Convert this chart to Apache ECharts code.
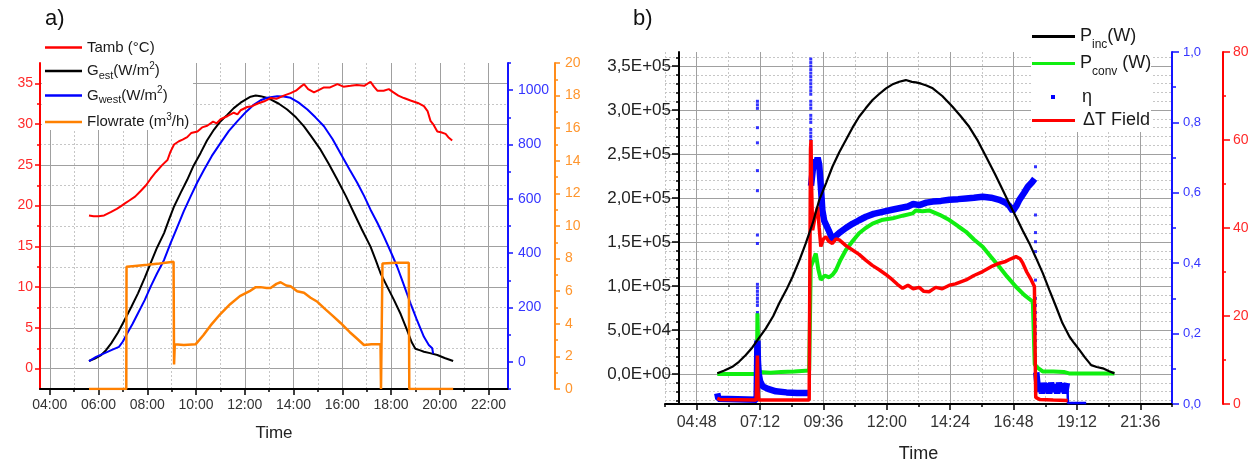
<!DOCTYPE html>
<html><head><meta charset="utf-8">
<script src="https://cdn.jsdelivr.net/npm/echarts@6/dist/echarts.min.js"></script>
<style>html,body{margin:0;padding:0;background:#fff}#c{width:1257px;height:464px}</style>
</head><body><div id="c"></div>
<script>
// ---------------- Panel a) data (x = hour of day) ----------------
const tambData = [[5.61,18.8],[5.8,18.7],[6.0,18.7],[6.23,18.8],[6.5,19.2],[6.75,19.6],[6.91,19.9],[7.1,20.3],[7.25,20.6],[7.5,21.1],[7.73,21.8],[7.95,22.5],[8.14,23.3],[8.35,24.1],[8.62,25.0],[8.83,25.6],[8.95,26.6],[9.1,27.5],[9.3,27.9],[9.45,28.1],[9.64,28.4],[9.8,28.9],[10.06,29.1],[10.25,29.6],[10.46,29.8],[10.7,30.3],[10.85,30.1],[11.01,30.6],[11.3,31.0],[11.55,31.4],[11.7,31.2],[11.83,31.7],[12.1,32.1],[12.3,32.2],[12.51,32.5],[12.8,32.8],[13.06,33.2],[13.3,33.1],[13.6,33.5],[13.88,33.8],[14.1,34.1],[14.3,34.6],[14.43,34.9],[14.6,34.3],[14.84,33.9],[15.05,34.2],[15.25,34.5],[15.5,34.5],[15.8,34.9],[16.05,34.6],[16.34,34.7],[16.6,34.8],[16.9,34.7],[17.16,35.2],[17.3,34.6],[17.44,34.1],[17.7,34.1],[17.91,34.3],[18.1,33.9],[18.3,33.5],[18.53,33.2],[18.8,32.9],[19.1,32.6],[19.35,32.2],[19.5,31.6],[19.62,30.4],[19.75,29.9],[19.9,29.1],[20.05,29.0],[20.24,28.8],[20.35,28.4],[20.51,28.0]];
const gestData = [[5.61,3],[5.85,12],[6.11,25],[6.3,42],[6.52,68],[6.8,108],[7.07,154],[7.35,203],[7.62,252],[7.9,310],[8.14,363],[8.4,420],[8.69,474],[8.9,525],[9.1,572],[9.37,622],[9.64,670],[9.9,722],[10.19,769],[10.45,815],[10.74,855],[11.0,885],[11.29,910],[11.55,934],[11.83,954],[12.05,966],[12.24,976],[12.45,980],[12.65,978],[12.85,973],[13.06,966],[13.4,950],[13.74,929],[14.1,900],[14.43,867],[14.75,827],[15.11,781],[15.45,728],[15.8,670],[16.15,610],[16.48,548],[16.8,488],[17.16,424],[17.37,375],[17.57,326],[17.85,276],[18.12,228],[18.4,175],[18.66,117],[18.85,72],[19.0,48],[19.07,43],[19.2,42],[19.25,46],[19.35,37],[19.6,32],[19.9,25],[20.2,14],[20.55,3]];
const gwestData = [[5.61,3],[5.9,18],[6.23,31],[6.55,44],[6.84,55],[7.0,75],[7.18,105],[7.4,140],[7.62,179],[7.9,228],[8.14,277],[8.4,325],[8.69,375],[8.95,435],[9.24,498],[9.5,555],[9.78,609],[10.05,660],[10.33,707],[10.65,758],[11.01,806],[11.35,850],[11.7,886],[12.05,920],[12.38,947],[12.65,963],[12.92,972],[13.33,978],[13.6,977],[13.88,972],[14.2,955],[14.57,929],[14.9,900],[15.25,867],[15.6,820],[16.0,756],[16.3,708],[16.62,658],[16.9,610],[17.16,560],[17.45,510],[17.71,461],[17.98,407],[18.25,351],[18.5,290],[18.8,215],[19.05,157],[19.35,92],[19.55,62],[19.69,50],[19.73,30]];
const flowData = [[5.61,0],[7.14,0],[7.15,7.5],[7.5,7.55],[8.0,7.62],[8.5,7.7],[9.08,7.8],[9.1,1.5],[9.13,2.75],[9.5,2.7],[9.99,2.75],[10.3,3.3],[10.6,3.9],[11.0,4.6],[11.4,5.2],[11.8,5.7],[12.2,6.0],[12.45,6.25],[12.65,6.25],[12.9,6.2],[13.06,6.2],[13.3,6.45],[13.47,6.55],[13.7,6.35],[13.88,6.3],[14.15,6.0],[14.43,5.9],[14.7,5.6],[14.98,5.35],[15.3,4.9],[15.6,4.5],[15.93,4.05],[16.3,3.5],[16.6,3.1],[16.89,2.7],[17.2,2.75],[17.57,2.75],[17.59,0],[17.63,0],[17.65,7.7],[18.2,7.75],[18.73,7.75],[18.75,0],[20.55,0]];

// ---------------- Panel b) data (x = hour of day) ----------------
const pincData = [[5.58,1000],[5.85,4000],[6.15,8300],[6.4,14000],[6.66,21600],[6.9,30000],[7.1,38600],[7.42,52000],[7.7,66000],[7.92,80300],[8.2,96000],[8.43,110600],[8.7,130000],[8.93,148500],[9.2,172000],[9.44,197700],[9.7,217000],[9.94,235600],[10.2,252000],[10.45,265900],[10.7,280000],[10.95,292400],[11.2,302000],[11.46,311400],[11.7,318000],[11.97,324700],[12.2,329000],[12.47,332200],[12.72,334100],[12.95,332000],[13.1,331500],[13.3,330000],[13.5,328000],[13.74,324700],[14.1,316000],[14.49,303800],[14.8,293000],[15.12,281000],[15.45,265000],[15.76,246900],[16.1,227000],[16.39,209100],[16.65,193000],[16.89,178800],[17.15,163000],[17.4,148500],[17.65,132000],[17.91,114400],[18.15,96000],[18.41,76500],[18.65,58000],[18.92,42400],[19.1,35000],[19.3,27300],[19.5,19000],[19.74,10200],[19.95,8000],[20.18,6500],[20.4,3500],[20.62,800]];
const pconvData = [[5.58,0],[7.08,0],[7.1,69000],[7.13,30000],[7.17,3000],[7.3,2000],[7.6,1500],[8.0,2500],[8.5,3000],[9.06,4000],[9.1,4000],[9.12,122000],[9.2,128000],[9.31,137000],[9.4,120000],[9.5,107000],[9.65,112000],[9.82,110000],[9.95,113000],[10.07,118000],[10.25,130000],[10.45,141000],[10.7,151000],[10.95,160000],[11.2,166000],[11.46,171000],[11.8,175000],[12.22,177000],[12.6,180000],[12.98,182600],[13.1,186000],[13.35,185000],[13.6,186000],[14.0,181000],[14.37,175000],[14.7,168000],[15.0,161700],[15.3,153000],[15.63,144700],[15.95,133000],[16.26,122000],[16.55,111000],[16.89,99200],[17.2,90000],[17.53,82200],[17.56,80000],[17.6,11000],[17.7,7500],[17.9,3000],[18.3,2800],[18.7,2500],[18.9,800],[20.62,800]];
const etaBandData = [[5.58,0.03],[5.62,0.015],[7.07,0.012],[7.09,0.012],[7.1,0.18],[7.12,0.12],[7.15,0.085],[7.2,0.065],[7.3,0.05],[7.5,0.043],[7.8,0.036],[8.2,0.033],[8.6,0.031],[9.07,0.031],[9.09,'-'],[9.13,0.62],[9.19,0.66],[9.25,0.695],[9.31,0.675],[9.38,0.7],[9.44,0.68],[9.5,0.62],[9.56,0.55],[9.63,0.52],[9.7,0.515],[9.82,0.49],[9.94,0.466],[10.05,0.476],[10.2,0.486],[10.45,0.5],[10.7,0.512],[10.95,0.522],[11.21,0.532],[11.5,0.54],[11.84,0.546],[12.15,0.551],[12.47,0.556],[12.8,0.561],[13.0,0.568],[13.23,0.565],[13.5,0.572],[13.74,0.575],[14.05,0.577],[14.37,0.58],[14.7,0.582],[15.0,0.584],[15.3,0.586],[15.63,0.589],[15.95,0.586],[16.26,0.58],[16.5,0.572],[16.65,0.562],[16.77,0.548],[16.9,0.562],[17.02,0.58],[17.2,0.6],[17.34,0.617],[17.5,0.63],[17.6,0.64],[17.62,'-'],[17.66,0.09],[17.7,0.06],[17.76,0.035],[17.82,0.055],[17.88,0.03],[17.94,0.06],[18.0,0.035],[18.08,0.058],[18.15,0.03],[18.22,0.06],[18.3,0.035],[18.38,0.055],[18.45,0.03],[18.52,0.06],[18.6,0.035],[18.68,0.058],[18.75,0.03],[18.82,0.06],[18.84,'-']];
const etaTailData = [[18.84,0.05],[18.86,0.003],[19.55,0.003]];
const etaDotData = [[7.1,0.86],[7.1,0.85],[7.1,0.84],[7.1,0.785],[7.1,0.742],[7.1,0.663],[7.1,0.606],[7.1,0.48],[7.1,0.456],[7.1,0.34],[7.1,0.33],[7.1,0.32],[7.1,0.31],[7.1,0.3],[7.1,0.29],[7.1,0.28],[7.1,0.26],[7.11,0.25],[7.11,0.24],[7.11,0.23],[7.11,0.22],[7.11,0.21],[7.11,0.2],[7.12,0.19],[7.12,0.18],[7.12,0.17],[7.12,0.16],[7.13,0.15],[7.13,0.14],[7.14,0.13],[7.15,0.12],[7.15,0.11],
  [9.12,0.98],[9.12,0.97],[9.12,0.96],[9.12,0.95],[9.12,0.94],[9.12,0.93],[9.12,0.92],[9.12,0.91],[9.12,0.9],[9.12,0.89],[9.12,0.88],[9.12,0.86],[9.12,0.85],[9.12,0.84],[9.12,0.82],[9.12,0.81],[9.12,0.8],[9.12,0.78],[9.12,0.77],[9.12,0.76],[9.12,0.75],[9.12,0.72],[9.12,0.7],[9.12,0.68],[9.12,0.66],[9.12,0.64],
  [17.63,0.674],[17.63,0.537],[17.63,0.487],[17.63,0.461],[17.63,0.433],[17.63,0.352],[17.63,0.3],[17.63,0.28],[17.63,0.26],[17.63,0.24],[17.63,0.22],[17.63,0.2],[17.63,0.18],[17.63,0.16],[17.63,0.14],[17.63,0.12],[17.63,0.1]];
const deltaTData = [[5.58,1.3],[5.7,1.0],[7.05,0.9],[7.08,0.9],[7.1,11],[7.12,3],[7.15,0.9],[9.06,0.9],[9.09,1.0],[9.11,58],[9.13,60],[9.15,50],[9.19,39.5],[9.3,43],[9.38,44.8],[9.44,40],[9.5,35.8],[9.6,37.5],[9.69,38],[9.8,37],[9.94,36.5],[10.07,37.5],[10.2,37.3],[10.45,36],[10.7,35],[10.95,34],[11.2,32.7],[11.45,31.5],[11.71,30.5],[11.95,29.5],[12.22,28.2],[12.4,27.2],[12.6,26.3],[12.8,27],[13.0,26.2],[13.23,26.5],[13.4,25.6],[13.6,25.5],[13.85,26.5],[14.1,26.2],[14.37,27],[14.6,27.3],[15.0,28.2],[15.3,29.2],[15.63,30.1],[15.95,31.2],[16.26,32],[16.5,32.4],[16.7,33],[16.89,33.5],[17.05,33],[17.15,32],[17.3,30],[17.47,28.2],[17.59,26.7],[17.62,10],[17.64,1.5],[17.8,1.0],[18.3,0.9],[18.85,0.8]];

// ---------------- tick values ----------------
const aHourMajor = [4,6,8,10,12,14,16,18,20,22];
const aHourMinor = [5,7,9,11,13,15,17,19,21];
const aTambMajor = [0,5,10,15,20,25,30,35];
const aTambMinor = [2.5,7.5,12.5,17.5,22.5,27.5,32.5];
const aGMajor = [0,200,400,600,800,1000];
const aGMinor = [-100,100,300,500,700,900,1100];
const bHourMajor = [4.8,7.2,9.6,12,14.4,16.8,19.2,21.6];
const bHourMinor = [3.6,6,8.4,10.8,13.2,15.6,18,20.4,22.8];
const bPowMajor = [0,50000,100000,150000,200000,250000,300000,350000];
const bPowMinor = [-30000,-20000,-10000,10000,20000,30000,40000,60000,70000,80000,90000,110000,120000,130000,140000,160000,170000,180000,190000,210000,220000,230000,240000,260000,270000,280000,290000,310000,320000,330000,340000,360000];

const FONT = "'Liberation Sans', Arial, Helvetica, sans-serif";
const MAJ = '#a0a0a0', MIN = '#c6c6c6';
const RED = '#ff0000', BLUE = '#0000ff', ORANGE = '#ff8000', GREEN = '#10ee10';
function hhmm(h){ const t = Math.round(h*60); const hh = Math.floor(t/60), mm = t%60; return String(hh).padStart(2,'0')+':'+String(mm).padStart(2,'0'); }
function sci(v){ if (Math.abs(v) < 1e-9) return '0,0E+00'; const e = Math.floor(Math.log10(Math.abs(v))+1e-9); const m = v/Math.pow(10,e); return m.toFixed(1).replace('.',',')+'E'+(e<0?'-':'+')+String(Math.abs(e)).padStart(2,'0'); }

const chart = echarts.init(document.getElementById('c'), null, {renderer:'canvas'});

const TXT = '#1a1a1a';
const richA = {
  n:{fontSize:15, lineHeight:20, verticalAlign:'middle', fontFamily:FONT, color:TXT},
  sub:{fontSize:11, lineHeight:20, verticalAlign:'bottom', fontFamily:FONT, color:TXT},
  sup:{fontSize:10, lineHeight:20, verticalAlign:'top', fontFamily:FONT, color:TXT}
};
const richB = {
  n:{fontSize:18, lineHeight:28, verticalAlign:'middle', fontFamily:FONT, color:TXT},
  sub:{fontSize:12, lineHeight:28, verticalAlign:'bottom', fontFamily:FONT, color:TXT},
  g:{fontSize:18, lineHeight:22, verticalAlign:'middle', fontFamily:FONT, color:TXT, padding:[0,0,0,22]},
  d:{fontSize:18, lineHeight:22, verticalAlign:'middle', fontFamily:FONT, color:TXT, padding:[0,0,0,3]}
};
function leg(name, left, top, fmt, rich, w, h){
  return {data:[{name:name, icon:'rect'}], left:left, top:top, orient:'vertical', padding:0, itemGap:0,
    itemWidth:w, itemHeight:h, selectedMode:false, formatter:()=>fmt,
    textStyle:{fontFamily:FONT, fontSize:15, color:TXT, rich:rich}};
}

const option = {
  animation:false,
  textStyle:{fontFamily:FONT},
  title:[
    {text:'a)', left:45, top:8, padding:0, textStyle:{fontSize:22, fontWeight:'normal', color:'#111', fontFamily:FONT}},
    {text:'b)', left:633, top:8, padding:0, textStyle:{fontSize:22, fontWeight:'normal', color:'#111', fontFamily:FONT}}
  ],
  graphic:[
    {type:'rect', z:1, shape:{x:42, y:56, width:151, height:74}, style:{fill:'#fff'}},
    {type:'rect', z:1, shape:{x:1031, y:50, width:120, height:82}, style:{fill:'#fff'}}
  ],
  legend:[
    leg('Tamb (°C)', 45, 40, '{n|Tamb (°C)}', richA, 37, 2.5),
    leg('Gest', 45, 61, '{n|G}{sub|est}{n|(W/m}{sup|2}{n|)}', richA, 37, 2.5),
    leg('Gwest', 45, 85.5, '{n|G}{sub|west}{n|(W/m}{sup|2}{n|)}', richA, 37, 2.5),
    leg('Flowrate', 45, 112, '{n|Flowrate (m}{sup|3}{n|/h)}', richA, 37, 2.5),
    leg('Pinc', 1032, 27.5, '{n|P}{sub|inc}{n|(W)}', richB, 43, 3),
    leg('Pconv', 1032, 54.5, '{n|P}{sub|conv}{n| (W)}', richB, 43, 3),
    leg('η', 1051, 88, '{g|η}', richB, 4, 4),
    leg('ΔT Field', 1032, 111.5, '{d|ΔT Field}', richB, 43, 3)
  ],
  grid:[
    {left:40, right:749, top:63, bottom:75, outerBoundsMode:'none'},
    {left:665, right:85, top:52, bottom:60, outerBoundsMode:'none'}
  ],
  xAxis:[
    {type:'value', gridIndex:0, position:'bottom', min:3.6, max:22.8,
     name:'Time', nameLocation:'middle', nameGap:36, nameTextStyle:{fontSize:17, color:'#222', fontFamily:FONT},
     axisLine:{show:true, onZero:false, lineStyle:{color:'#000', width:2}},
     axisTick:{show:true, customValues:aHourMajor, length:6, lineStyle:{color:'#000', width:1.5}},
     axisLabel:{customValues:aHourMajor, formatter:v=>hhmm(v), margin:9, fontSize:14, color:'#333', fontFamily:FONT},
     splitLine:{show:true, lineStyle:{color:MAJ, width:1}}},
    {type:'value', gridIndex:0, position:'bottom', min:3.6, max:22.8,
     axisLine:{show:false, onZero:false},
     axisTick:{show:true, customValues:aHourMinor, length:3, lineStyle:{color:'#000', width:1.5}},
     axisLabel:{show:false},
     splitLine:{show:true, lineStyle:{color:MIN, width:1, type:[2,2]}}},
    {type:'value', gridIndex:1, position:'bottom', min:3.6, max:22.8,
     name:'Time', nameLocation:'middle', nameGap:41, nameTextStyle:{fontSize:18, color:'#222', fontFamily:FONT},
     axisLine:{show:true, onZero:false, lineStyle:{color:'#000', width:2}},
     axisTick:{show:true, customValues:bHourMajor, length:6, lineStyle:{color:'#000', width:1.5}},
     axisLabel:{customValues:bHourMajor, formatter:v=>hhmm(v), margin:11, fontSize:16, color:'#333', fontFamily:FONT},
     splitLine:{show:true, lineStyle:{color:MAJ, width:1}}},
    {type:'value', gridIndex:1, position:'bottom', min:3.6, max:22.8,
     axisLine:{show:false, onZero:false},
     axisTick:{show:true, customValues:bHourMinor, length:3, lineStyle:{color:'#000', width:1.5}},
     axisLabel:{show:false},
     splitLine:{show:true, lineStyle:{color:MIN, width:1, type:[2,2]}}}
  ],
  yAxis:[
    {type:'value', gridIndex:0, position:'left', min:-2.5, max:37.5,
     axisLine:{show:true, onZero:false, lineStyle:{color:RED, width:2}},
     axisTick:{show:true, customValues:aTambMajor, length:5, lineStyle:{color:RED, width:1.5}},
     axisLabel:{customValues:aTambMajor, formatter:v=>String(v), margin:7, fontSize:14, color:'#ff2a2a', fontFamily:FONT},
     splitLine:{show:true, lineStyle:{color:MAJ, width:1}}},
    {type:'value', gridIndex:0, position:'left', min:-2.5, max:37.5,
     axisLine:{show:false, onZero:false},
     axisTick:{show:true, customValues:aTambMinor, length:3, lineStyle:{color:RED, width:1.5}},
     axisLabel:{show:false},
     splitLine:{show:true, lineStyle:{color:MIN, width:1, type:[2,2]}}},
    {type:'value', gridIndex:0, position:'right', min:-100, max:1100,
     axisLine:{show:true, onZero:false, lineStyle:{color:'#1515ff', width:2}},
     axisTick:{show:true, customValues:aGMajor, length:5, lineStyle:{color:'#1515ff', width:1.5}},
     axisLabel:{customValues:aGMajor, formatter:v=>String(v), margin:10, fontSize:14, color:'#3535ff', fontFamily:FONT},
     splitLine:{show:false}},
    {type:'value', gridIndex:0, position:'right', min:-100, max:1100,
     axisLine:{show:false, onZero:false},
     axisTick:{show:true, customValues:aGMinor, length:3, lineStyle:{color:'#1515ff', width:1.5}},
     axisLabel:{show:false}, splitLine:{show:false}},
    {type:'value', gridIndex:0, position:'right', offset:47, min:0, max:20, interval:2,
     axisLine:{show:true, onZero:false, lineStyle:{color:'#ff8c1a', width:2}},
     axisTick:{show:true, length:5, lineStyle:{color:'#ff8c1a', width:1.5}},
     minorTick:{show:true, splitNumber:2, length:3, lineStyle:{color:'#ff8c1a', width:1.5}},
     axisLabel:{formatter:v=>String(v), margin:10, fontSize:14, color:'#ff962e', fontFamily:FONT},
     splitLine:{show:false}, minorSplitLine:{show:false}},
    {type:'value', gridIndex:1, position:'left', offset:-14, min:-34000, max:366000,
     axisLine:{show:true, onZero:false, lineStyle:{color:'#000', width:2}},
     axisTick:{show:true, customValues:bPowMajor, length:7, lineStyle:{color:'#000', width:1.5}},
     axisLabel:{customValues:bPowMajor, formatter:v=>sci(v), margin:8, fontSize:17, color:'#222', fontFamily:FONT},
     splitLine:{show:true, lineStyle:{color:MAJ, width:1}}},
    {type:'value', gridIndex:1, position:'left', offset:-14, min:-34000, max:366000,
     axisLine:{show:false, onZero:false},
     axisTick:{show:true, customValues:bPowMinor, length:3, lineStyle:{color:'#000', width:1.5}},
     axisLabel:{show:false},
     splitLine:{show:true, lineStyle:{color:MIN, width:1, type:[2,2]}}},
    {type:'value', gridIndex:1, position:'right', min:0, max:1, interval:0.2,
     axisLine:{show:true, onZero:false, lineStyle:{color:'#1515ff', width:2}},
     axisTick:{show:true, length:7, lineStyle:{color:'#1515ff', width:1.5}},
     minorTick:{show:true, splitNumber:2, length:4, lineStyle:{color:'#1515ff', width:1.5}},
     axisLabel:{formatter:v=>v.toFixed(1).replace('.',','), margin:11, fontSize:13, color:'#3535ff', fontFamily:FONT},
     splitLine:{show:false}, minorSplitLine:{show:false}},
    {type:'value', gridIndex:1, position:'right', offset:51, min:0, max:80, interval:20,
     axisLine:{show:true, onZero:false, lineStyle:{color:RED, width:2}},
     axisTick:{show:true, length:7, lineStyle:{color:RED, width:1.5}},
     minorTick:{show:true, splitNumber:2, length:3, lineStyle:{color:RED, width:1.5}},
     axisLabel:{formatter:v=>String(v), margin:10, fontSize:14, color:'#ff2a2a', fontFamily:FONT},
     splitLine:{show:false}, minorSplitLine:{show:false}}
  ],
  series:[
    {name:'Gest', type:'line', xAxisIndex:0, yAxisIndex:2, data:gestData, symbol:'none', color:'#000', lineStyle:{color:'#000', width:2}},
    {name:'Gwest', type:'line', xAxisIndex:0, yAxisIndex:2, data:gwestData, symbol:'none', color:BLUE, lineStyle:{color:BLUE, width:2}},
    {name:'Tamb (°C)', type:'line', xAxisIndex:0, yAxisIndex:0, data:tambData, symbol:'none', color:RED, lineStyle:{color:RED, width:2}},
    {name:'Flowrate', type:'line', xAxisIndex:0, yAxisIndex:4, data:flowData, symbol:'none', color:ORANGE, lineStyle:{color:ORANGE, width:2.5}},
    {name:'Pconv', type:'line', xAxisIndex:2, yAxisIndex:5, data:pconvData, symbol:'none', color:GREEN, lineStyle:{color:GREEN, width:4}},
    {name:'η', type:'line', xAxisIndex:2, yAxisIndex:7, data:etaBandData, symbol:'none', connectNulls:false, color:BLUE, lineStyle:{color:BLUE, width:6.5}},
    {name:'η', type:'line', xAxisIndex:2, yAxisIndex:7, data:etaTailData, symbol:'none', color:BLUE, lineStyle:{color:BLUE, width:2.5}},
    {name:'η', type:'scatter', xAxisIndex:2, yAxisIndex:7, data:etaDotData, symbol:'rect', symbolSize:3, color:BLUE, itemStyle:{color:BLUE}},
    {name:'ΔT Field', type:'line', xAxisIndex:2, yAxisIndex:8, data:deltaTData, symbol:'none', color:RED, lineStyle:{color:RED, width:3.5}},
    {name:'Pinc', type:'line', xAxisIndex:2, yAxisIndex:5, data:pincData, symbol:'none', color:'#000', lineStyle:{color:'#000', width:2.2}}
  ]
};
chart.setOption(option);
</script></body></html>
